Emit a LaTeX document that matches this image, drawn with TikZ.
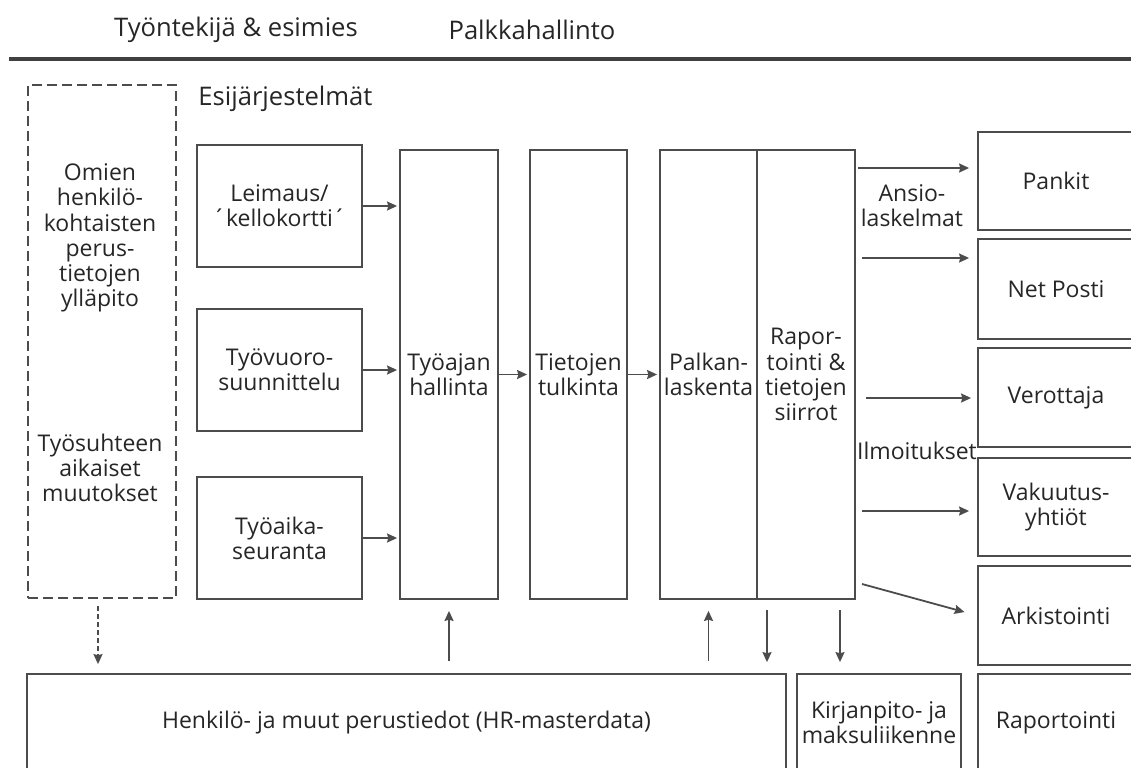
\documentclass[tikz,border=0pt]{standalone}
\usepackage{fontspec}
\setmainfont{Open Sans}
\usetikzlibrary{arrows.meta}

\begin{document}
\begin{tikzpicture}[
    x=0.5pt, y=-0.5pt,
    >={Stealth[length=5pt, width=4.5pt, inset=0.6pt]},
    font=\fontsize{11.5}{12.6}\selectfont,
    % Styles
    line_col/.style={draw=black!70, line width=0.9pt},
    stage_box/.style={line_col, rectangle, inner sep=0pt, align=center, text=black!85},
    pre_box/.style={stage_box, minimum width=82.5pt, minimum height=61pt},
    step_box/.style={stage_box, minimum height=224.5pt},
    party_box/.style={stage_box, minimum width=78pt},
    base_box/.style={stage_box, minimum height=49pt},
    label_text/.style={align=center, inner sep=0pt, text=black!85},
    head_text/.style={label_text, font=\fontsize{12.8}{14}\selectfont},
    flow/.style={->, line_col, shorten >=1pt},
    flow_dashed/.style={flow, dash pattern=on 2.5pt off 1.5pt}
]
    \useasboundingbox (0,0) rectangle (1131,767);

    % ==========================================
    % 1. HEADER
    % ==========================================
    \node[head_text] (tyontekija) at (236,30) {Työntekijä \& esimies};
    \node[head_text] (palkkahallinto) at (532,30) {Palkkahallinto};
    \draw[black!75, line width=2pt] (9,59) -- (1131,59);

    % ==========================================
    % 2. OWN DATA (dashed area)
    % ==========================================
    \node[line_col, dash pattern=on 5pt off 2.5pt, minimum width=74pt, minimum height=256.5pt, inner sep=0pt]
        (omat) at (102,341.5) {};
    \node[label_text] (omien) at (100,238)
        {Omien\\henkilö-\\kohtaisten\\perus-\\tietojen\\ylläpito};
    \node[label_text] (muutokset) at (100,468) {Työsuhteen\\aikaiset\\muutokset};

    % ==========================================
    % 3. PRE-SYSTEMS
    % ==========================================
    \node[head_text, anchor=west] (esij) at (198,99) {Esijärjestelmät};
    \node[pre_box] (leimaus) at (279.5,206) {Leimaus/\\´kellokortti´};
    \node[pre_box] (tyovuoro) at (279.5,370) {Työvuoro-\\suunnittelu};
    \node[pre_box] (tyoaika) at (279.5,538) {Työaika-\\seuranta};

    % ==========================================
    % 4. PAYROLL STEPS
    % ==========================================
    \node[step_box, minimum width=49pt] (hallinta) at (449,374.5) {Työajan\\hallinta};
    \node[step_box, minimum width=48.5pt] (tulkinta) at (578.5,374.5) {Tietojen\\tulkinta};
    \node[step_box, minimum width=48.5pt] (palkka) at (708.5,374.5) {Palkan-\\laskenta};
    \node[step_box, minimum width=49pt] (raport) at (806,374.5) {Rapor-\\tointi \&\\tietojen\\siirrot};

    % ==========================================
    % 5. RECEIVERS
    % ==========================================
    \node[party_box, minimum height=49pt] (pankit) at (1056,181) {Pankit};
    \node[party_box, minimum height=50pt] (netposti) at (1056,289) {Net Posti};
    \node[party_box, minimum height=49.5pt] (verottaja) at (1056,397.5) {Verottaja};
    \node[party_box, minimum height=49pt] (vakuutus) at (1056,507) {Vakuutus-\\yhtiöt};
    \node[party_box, minimum height=49.5pt] (arkistointi) at (1056,615.5) {Arkistointi};
    \node[party_box, minimum height=49pt] (raportointi) at (1056,723) {Raportointi};

    % ==========================================
    % 6. BASE DATA
    % ==========================================
    \node[base_box, minimum width=379.5pt] (hr) at (406.5,723)
        {Henkilö- ja muut perustiedot (HR-masterdata)};
    \node[base_box, minimum width=82pt] (kirjanpito) at (879,723)
        {Kirjanpito- ja\\maksuliikenne};

    % ==========================================
    % 7. FLOWS
    % ==========================================
    \foreach \src in {leimaus, tyovuoro, tyoaika} {
        \draw[flow] (\src.east) -- (\src.east -| hallinta.west);
    }
    \draw[flow] (hallinta.east) -- (tulkinta.west);
    \draw[flow] (tulkinta.east) -- (palkka.west);

    % outgoing
    \coordinate (out1) at (858,168);
    \coordinate (out2) at (862,258);
    \coordinate (out3) at (866,398);
    \coordinate (out4) at (862,511);
    \coordinate (out5) at (862,584);
    \draw[flow, shorten >=4pt] (out1) -- (out1 -| pankit.west);
    \draw[flow, shorten >=4pt] (out2) -- (out2 -| netposti.west);
    \draw[flow, shorten >=3pt] (out3) -- (out3 -| verottaja.west);
    \draw[flow, shorten >=4pt] (out4) -- (out4 -| vakuutus.west);
    \draw[flow, shorten >=6.5pt] (out5) -- (arkistointi.west);
    \node[label_text] (ansio) at (912,206) {Ansio-\\laskelmat};
    \node[label_text] (ilmoitukset) at (917,451) {Ilmoitukset};

    % to and from base data
    \draw[flow, shorten <=6pt, shorten >=5.5pt] (hr.north -| hallinta) -- (hallinta.south);
    \draw[flow, shorten <=6pt, shorten >=5.5pt] (hr.north -| palkka) -- (palkka.south);
    \coordinate (down1) at (767,599);
    \coordinate (down2) at (840,599);
    \draw[flow, shorten <=5.5pt, shorten >=5.5pt] (down1) -- (down1 |- hr.north);
    \draw[flow, shorten <=5.5pt, shorten >=5.5pt] (down2) -- (down2 |- kirjanpito.north);
    \draw[flow_dashed, shorten <=3.5pt, shorten >=4.5pt] (omat.south -| 98,0) -- (hr.north -| 98,0);

\end{tikzpicture}
\end{document}
